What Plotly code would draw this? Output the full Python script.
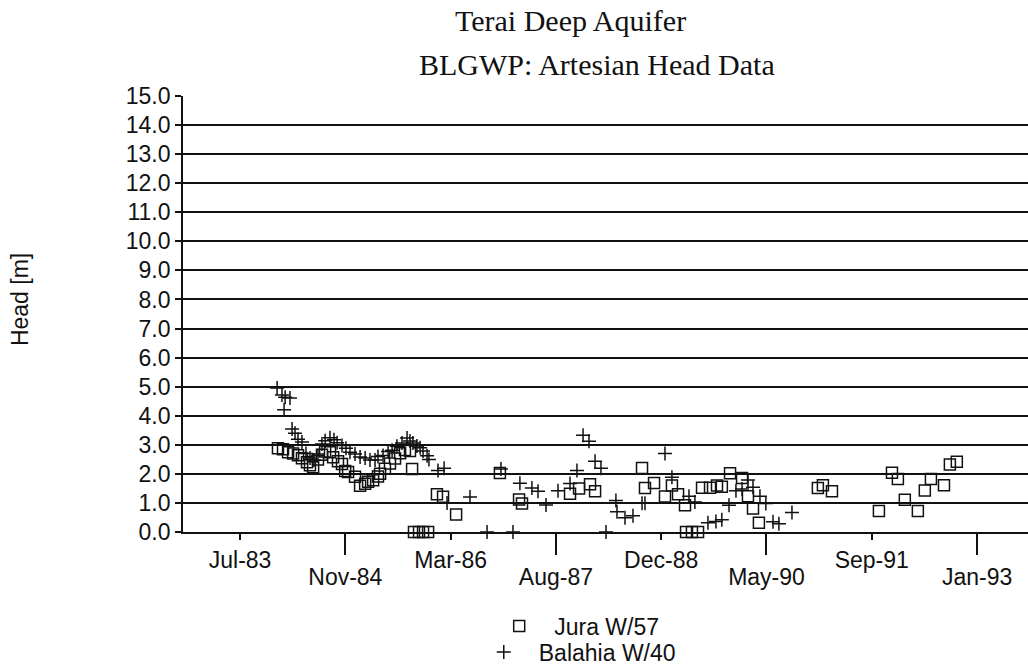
import plotly.graph_objects as go

# Jura W/57 artesian head readings
jura_dates = [
    "1983-12-28", "1984-01-21", "1984-02-14", "1984-03-09", "1984-04-01", "1984-04-20",
    "1984-05-14", "1984-05-28", "1984-06-12", "1984-07-05", "1984-07-24", "1984-08-08",
    "1984-08-31", "1984-09-15", "1984-10-08", "1984-10-27", "1984-11-11", "1984-11-25",
    "1984-12-28", "1985-01-21", "1985-02-14", "1985-02-28", "1985-03-24", "1985-04-16",
    "1985-04-26", "1985-05-19", "1985-06-12", "1985-07-06", "1985-07-30", "1985-08-22",
    "1985-09-15", "1985-09-25", "1985-10-04", "1985-10-28", "1985-11-16", "1985-12-10",
    "1986-01-21", "1986-02-19", "1986-04-22", "1986-11-16", "1987-02-15", "1987-03-01",
    "1987-10-15", "1987-11-27", "1988-01-18", "1988-02-11", "1988-09-21", "1988-10-05",
    "1988-11-17", "1989-01-08", "1989-02-10", "1989-03-11", "1989-04-13", "1989-04-18",
    "1989-05-16", "1989-06-14", "1989-07-03", "1989-08-10", "1989-09-12", "1989-10-05",
    "1989-11-13", "1990-01-09", "1990-02-06", "1990-03-02", "1990-03-30", "1991-01-04",
    "1991-01-28", "1991-03-12", "1991-10-21", "1991-12-22", "1992-01-19", "1992-02-21",
    "1992-04-23", "1992-05-26", "1992-06-24", "1992-08-25", "1992-09-22", "1992-10-25",
]
jura_head = [
    2.88, 2.85, 2.74, 2.70, 2.64, 2.54,
    2.40, 2.30, 2.23, 2.49, 2.66, 2.77,
    2.74, 2.57, 2.43, 2.34, 2.10, 2.06,
    1.90, 1.59, 1.66, 1.73, 1.78, 1.91,
    2.00, 2.18, 2.36, 2.53, 2.71, 2.82,
    2.79, 2.17, 0.00, 0.00, 0.00, 0.00,
    1.30, 1.21, 0.60, 2.03, 1.12, 0.98,
    1.32, 1.50, 1.64, 1.40, 2.20, 1.51,
    1.69, 1.22, 1.60, 1.30, 0.92, 0.00,
    0.00, 0.00, 1.52, 1.52, 1.60, 1.56,
    2.02, 1.86, 1.23, 0.81, 0.32, 1.51,
    1.61, 1.40, 0.72, 2.04, 1.82, 1.11,
    0.72, 1.43, 1.82, 1.61, 2.32, 2.42,
]

# Balahia W/40 artesian head readings
balahia_dates = [
    "1983-12-24", "1984-01-16", "1984-01-26", "1984-01-31", "1984-02-23", "1984-03-04",
    "1984-03-18", "1984-04-01", "1984-04-20", "1984-05-09", "1984-05-28", "1984-06-16",
    "1984-07-05", "1984-07-24", "1984-08-08", "1984-08-31", "1984-09-19", "1984-10-04",
    "1984-10-27", "1984-11-15", "1984-12-04", "1984-12-28", "1985-01-21", "1985-02-14",
    "1985-03-09", "1985-04-02", "1985-04-16", "1985-05-10", "1985-06-03", "1985-06-22",
    "1985-07-15", "1985-08-08", "1985-09-01", "1985-09-15", "1985-09-29", "1985-10-18",
    "1985-11-02", "1985-11-16", "1985-12-05", "1985-12-14", "1986-01-26", "1986-02-24",
    "1986-03-10", "1986-06-27", "1986-09-16", "1986-11-21", "1987-01-17", "1987-02-19",
    "1987-04-17", "1987-05-16", "1987-06-23", "1987-08-19", "1987-10-15", "1987-11-17",
    "1987-12-16", "1988-01-13", "1988-02-11", "1988-03-10", "1988-04-03", "1988-05-20",
    "1988-05-25", "1988-07-02", "1988-08-09", "1988-09-21", "1988-10-05", "1989-01-08",
    "1989-02-10", "1989-05-02", "1989-05-30", "1989-07-31", "1989-09-07", "1989-10-05",
    "1989-11-08", "1989-12-11", "1990-01-09", "1990-02-06", "1990-03-02", "1990-04-04",
    "1990-05-02", "1990-06-05", "1990-07-03", "1990-09-03",
]
balahia_head = [
    4.95, 4.71, 4.21, 4.64, 4.61, 3.54,
    3.40, 3.19, 3.10, 2.70, 2.55, 2.48,
    2.62, 3.03, 3.14, 3.24, 3.17, 3.07,
    2.98, 2.88, 2.74, 2.68, 2.58, 2.55,
    2.48, 2.48, 2.60, 2.63, 2.77, 2.81,
    2.95, 3.06, 3.23, 3.13, 3.06, 2.96,
    2.90, 2.79, 2.62, 2.49, 2.12, 2.19,
    1.00, 1.20, 0.00, 2.17, 0.00, 1.68,
    1.51, 1.40, 0.93, 1.42, 1.67, 2.12,
    3.33, 3.12, 2.43, 2.19, 0.00, 1.08,
    0.70, 0.49, 0.56, 0.99, 0.99, 2.70,
    1.88, 1.23, 1.03, 0.32, 0.36, 0.42,
    0.92, 1.42, 1.48, 1.79, 1.54, 1.23,
    0.98, 0.35, 0.28, 0.67,
]

# Date axis: labels every 500 days, alternating between two rows
tick_dates_upper = ["1983-07-01", "1986-03-27", "1988-12-21", "1991-09-17"]
tick_labels_upper = ["Jul-83", "Mar-86", "Dec-88", "Sep-91"]
tick_dates_lower = ["1984-11-12", "1987-08-09", "1990-05-05", "1993-01-29"]
tick_labels_lower = ["Nov-84", "Aug-87", "May-90", "Jan-93"]
x_range = ["1982-10-03", "1993-09-28"]

y_ticks = [float(v) for v in range(0, 16)]
y_labels = [f"{v:.1f}" for v in y_ticks]

SANS = "Liberation Sans, Arial, Helvetica, sans-serif"
SERIF = "Liberation Serif, Times New Roman, serif"
INK = "#111111"

fig = go.Figure()
fig.add_trace(go.Scatter(
    x=jura_dates, y=jura_head, mode="markers", name="Jura W/57",
    marker=dict(symbol="square-open", size=11, color=INK, line=dict(width=1.5, color=INK)),
    cliponaxis=False, legend="legend", showlegend=True,
))
# second series sits on the overlaid date axis that carries the lower label row
fig.add_trace(go.Scatter(
    x=balahia_dates, y=balahia_head, mode="markers", name="Balahia W/40",
    marker=dict(symbol="cross-thin-open", size=10, color=INK, line=dict(width=1.5, color=INK)),
    cliponaxis=False, legend="legend2", showlegend=True,
    xaxis="x2", yaxis="y",
))

legend_style = dict(
    xref="container", yref="container", xanchor="left", yanchor="middle",
    bgcolor="rgba(0,0,0,0)", itemwidth=60, borderwidth=0,
    font=dict(family=SANS, size=23, color=INK),
)

fig.update_layout(
    width=1028, height=666,
    margin=dict(l=183, r=0, t=96, b=134, autoexpand=False),
    paper_bgcolor="white", plot_bgcolor="white",
    showlegend=True,
    font=dict(family=SANS, size=23, color=INK),
    xaxis=dict(
        type="date", range=x_range,
        tickmode="array", tickvals=tick_dates_upper, ticktext=tick_labels_upper,
        ticks="outside", ticklen=6, tickwidth=1.5, tickcolor=INK,
        ticklabelstandoff=0,
        showgrid=False, zeroline=False,
        showline=True, linewidth=1.8, linecolor=INK,
        tickfont=dict(family=SANS, size=23, color=INK),
    ),
    xaxis2=dict(
        type="date", range=x_range, overlaying="x", matches="x", anchor="y", side="bottom",
        tickmode="array", tickvals=tick_dates_lower, ticktext=tick_labels_lower,
        ticks="outside", ticklen=22, tickwidth=1.5, tickcolor=INK,
        ticklabelstandoff=2,
        showgrid=False, zeroline=False, showline=False,
        tickfont=dict(family=SANS, size=23, color=INK),
    ),
    yaxis=dict(
        range=[0, 15], tickmode="array", tickvals=y_ticks, ticktext=y_labels,
        ticks="outside", ticklen=6, tickwidth=1.5, tickcolor=INK,
        showgrid=True, gridcolor=INK, gridwidth=1.6,
        zeroline=False,
        showline=True, linewidth=1.8, linecolor=INK,
        tickfont=dict(family=SANS, size=23, color=INK),
    ),
    legend=dict(x=0.471, y=0.060, **legend_style),
    legend2=dict(x=0.456, y=0.021, **legend_style),
    annotations=[
        dict(text="Terai Deep Aquifer", xref="paper", yref="paper",
             x=0.458, y=1.174, xanchor="center", yanchor="middle", showarrow=False,
             font=dict(family=SERIF, size=30, color=INK)),
        dict(text="BLGWP: Artesian Head Data", xref="paper", yref="paper",
             x=0.490, y=1.073, xanchor="center", yanchor="middle", showarrow=False,
             font=dict(family=SERIF, size=30, color=INK)),
        dict(text="Head [m]", xref="paper", yref="paper",
             x=-0.193, y=0.534, xanchor="center", yanchor="middle", showarrow=False,
             textangle=-90, font=dict(family=SANS, size=23, color=INK)),
    ],
)

fig.write_html("out.html")
